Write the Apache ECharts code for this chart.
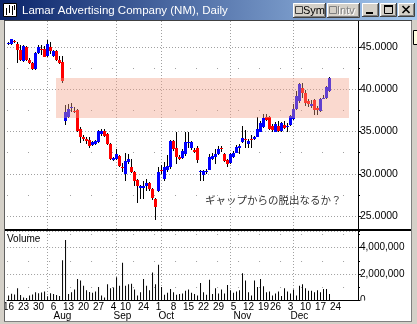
<!DOCTYPE html>
<html><head><meta charset="utf-8">
<script src="https://cdn.jsdelivr.net/npm/echarts@6/dist/echarts.min.js"></script>
<style>html,body{margin:0;padding:0;background:#fff;overflow:hidden}#c{width:417px;height:324px}</style>
</head><body><div id="c"></div>
<script>
// ---- data ----
const dates = [
'07/16','07/17','07/18','07/19','07/20','07/23','07/24','07/25','07/26','07/27','07/30','07/31',
'08/01','08/02','08/03','08/06','08/07','08/08','08/09','08/10','08/13','08/14','08/15','08/16','08/17','08/20','08/21','08/22','08/23','08/24','08/27','08/28','08/29','08/30','08/31',
'09/04','09/05','09/06','09/07','09/10','09/17','09/18','09/19','09/20','09/21','09/24','09/25','09/26','09/27','09/28',
'10/01','10/02','10/03','10/04','10/05','10/08','10/09','10/10','10/11','10/12','10/15','10/16','10/17','10/18','10/19','10/22','10/23','10/24','10/25','10/26','10/29','10/30','10/31',
'11/01','11/02','11/05','11/06','11/07','11/08','11/09','11/12','11/13','11/14','11/15','11/16','11/19','11/20','11/21','11/23','11/26','11/27','11/28','11/29','11/30',
'12/03','12/04','12/05','12/06','12/07','12/10','12/11','12/12','12/13','12/14','12/17','12/18','12/19','12/20','12/21','12/24','12/26','12/27','12/28','12/31',
'01/02','01/03','01/04'];

const openP = [45.3,45.3,45.7,45.4,44.6,43.3,45.0,43.5,43.1,42.35,
44.25,44.8,44.8,43.9,45.0,43.9,44.5,43.45,43.2,36.3,
36.7,37.8,37.4,37.5,35.3,34.3,34.1,34.0,33.45,33.5,
33.73,34.7,35.1,34.7,33.5,31.6,31.7,32.1,30.85,30.0,
31.35,30.8,30.2,29.25,28.3,28.35,28.55,28.85,28.2,27.0,
28.0,30.45,29.4,30.4,30.75,33.85,33.0,32.0,31.9,32.3,
33.7,33.0,32.8,33.1,30.25,29.8,30.3,30.5,31.8,32.0,
32.3,33.1,32.3,31.6,31.3,32.0,32.5,33.0,33.8,34.15,
33.5,34.15,34.1,34.4,35.0,35.5,36.7,36.7,35.6,35.0,
35.7,35.1,35.8,35.5,35.8,36.5,37.7,38.6,40.2,39.6,
38.6,38.0,38.7,37.8,37.4,38.95,39.0,39.8];
const closeP = [45.5,45.95,45.6,44.7,43.5,45.1,43.5,43.1,42.35,44.3,
44.95,44.75,43.85,45.35,44.5,44.5,43.5,43.1,41.0,37.35,
37.7,37.85,37.25,35.05,34.3,34.1,33.85,33.3,33.73,33.85,
35.05,35.1,34.5,33.5,31.75,31.9,32.3,30.95,30.8,31.5,
31.75,30.2,29.2,28.6,28.6,28.6,28.9,28.2,27.1,26.05,
30.2,30.4,30.75,30.9,33.9,32.9,31.95,31.75,32.7,33.7,
33.75,33.7,32.6,31.6,30.3,30.3,30.35,31.95,32.1,32.3,
32.9,32.9,31.55,31.15,32.3,32.5,33.2,33.3,34.2,34.05,
33.9,34.05,34.4,35.3,36.0,36.6,36.4,35.3,35.2,35.9,
35.1,36.0,35.4,35.6,36.8,37.7,39.2,40.6,39.6,38.4,
38.3,38.3,37.5,37.6,38.9,39.0,40.3,41.3];
const highP = [45.6,46.0,45.8,45.6,45.2,45.2,45.1,43.7,43.2,44.4,
45.2,45.25,45.1,45.8,45.6,44.6,44.6,43.9,43.9,38.1,
38.2,38.4,37.95,37.7,35.5,34.6,34.4,34.3,33.9,34.0,
35.2,35.3,35.3,34.8,33.6,32.0,32.9,32.2,31.3,32.5,
32.3,31.8,30.3,29.4,28.7,29.2,29.4,29.0,28.3,27.1,
30.8,31.0,31.4,32.2,34.0,33.95,35.0,32.2,32.9,35.0,
35.0,33.9,33.0,33.3,30.5,30.5,30.6,32.3,32.5,32.9,
33.3,33.3,32.4,31.7,32.4,32.7,33.4,33.5,35.6,35.2,
34.1,34.6,34.5,36.7,36.3,37.1,37.1,36.8,35.9,36.1,
36.2,36.1,36.2,36.0,37.0,38.2,39.8,40.8,40.7,39.9,
38.9,38.7,38.9,38.0,39.0,39.3,40.4,41.5];
const lowP = [45.2,45.2,45.5,43.1,43.4,43.2,43.4,43.0,42.3,42.3,
44.2,44.05,43.8,43.8,44.2,43.8,43.4,43.0,40.75,35.8,
36.6,37.3,37.2,35.0,33.6,33.9,33.5,33.1,33.3,33.4,
33.6,34.5,34.3,33.4,31.6,31.5,31.6,30.8,30.2,29.2,
31.2,30.1,28.5,26.5,27.0,27.0,28.0,27.9,26.9,24.5,
27.8,30.0,29.2,30.2,30.6,32.7,31.2,31.6,31.8,32.1,
33.1,32.8,32.4,31.3,29.2,29.1,30.0,30.4,31.6,31.2,
32.2,32.6,31.4,30.8,31.2,31.9,32.4,32.3,33.6,33.1,
33.0,33.1,34.0,34.3,34.9,35.4,36.3,35.2,35.0,34.9,
35.0,35.0,35.3,35.0,35.7,36.4,37.6,38.4,39.0,38.0,
37.9,37.8,36.9,36.9,37.3,38.8,38.9,39.7];
const volume = [350000,480000,420000,900000,380000,200000,150000,350000,420000,600000,
520000,580000,650000,280000,520000,450000,380000,300000,3050000,4600000,
450000,600000,800000,1600000,1500000,1100000,750000,620000,550000,650000,
1000000,350000,200000,1200000,900000,950000,1750000,1100000,2850000,1100000,
1200000,1250000,800000,350000,600000,1600000,1100000,750000,2100000,1200000,
2700000,1000000,400000,550000,850000,600000,400000,450000,500000,700000,
800000,550000,450000,350000,1300000,600000,400000,1550000,450000,900000,
500000,800000,500000,1150000,750000,550000,650000,750000,2050000,1500000,
600000,350000,1500000,1000000,1600000,1050000,600000,650000,350000,500000,
650000,300000,900000,650000,500000,800000,350000,1100000,1200000,900000,
700000,700000,600000,750000,600000,850000,850000,450000];

const tickDates = ['07/16','07/23','07/30','08/06','08/13','08/20','08/27','09/04','09/10','09/24',
'10/01','10/08','10/15','10/22','10/29','11/05','11/12','11/19','11/26','12/03','12/10','12/17','12/24'];
const monthLabelDates = ['08/06','09/04','10/01','11/05','12/03'];
const monthNames = ['Aug','Sep','Oct','Nov','Dec'];
const monthLineDates = ['08/02','09/05','10/02','11/02','12/04'];
const gapZoneDates = ['08/07','12/31'];
const gapZonePrices = [36.6, 41.35];
const priceTicks = [25, 45];
const annotation = 'ギャップからの脱出なるか？';

// ---- build ----
const FONT = '"Liberation Sans", Arial, sans-serif';
const tickSet = new Set(tickDates);
const monthLineSet = new Set(monthLineDates);
const ohlc = openP.map((o, i) => [i, o, closeP[i], lowP[i], highP[i]]);
const zone = [[dates.indexOf(gapZoneDates[0]), dates.indexOf(gapZoneDates[1]), gapZonePrices[0], gapZonePrices[1]]];

function renderCandle(params, api) {
  const i = api.value(0);
  const o = api.value(1), c = api.value(2);
  const pO = api.coord([i, o]), pC = api.coord([i, c]);
  const pL = api.coord([i, api.value(3)]), pH = api.coord([i, api.value(4)]);
  const bw = api.size([1, 0])[0];
  const cx = Math.floor(pO[0]) + 0.5;
  const top = Math.round(Math.min(pO[1], pC[1]));
  const bot = Math.round(Math.max(pO[1], pC[1]));
  return {type: 'group', children: [
    {type: 'line', shape: {x1: cx, y1: Math.round(pH[1]), x2: cx, y2: Math.round(pL[1])}, style: {stroke: '#000', lineWidth: 1}},
    {type: 'rect', shape: {x: cx - bw / 2, y: top, width: bw, height: Math.max(1, bot - top)}, style: {fill: c >= o ? '#0000FF' : '#FF0000'}}
  ]};
}
function renderZone(params, api) {
  const bw = api.size([1, 0])[0];
  const p0 = api.coord([api.value(0), api.value(3)]);
  const p1 = api.coord([api.value(1), api.value(2)]);
  const x0 = p0[0] - bw / 2 + 1, x1 = p1[0] + bw / 2;
  const y0 = Math.round(p0[1]), y1 = Math.round(p1[1]);
  return {type: 'rect', shape: {x: x0, y: y0, width: x1 - x0, height: y1 - y0}, style: {fill: 'rgba(242,160,134,0.4)'}};
}

function btn(x, y, w, h) {
  return [
    {type: 'rect', z: 100, shape: {x: x, y: y, width: w, height: h}, style: {fill: '#D4D0C8'}},
    {type: 'polyline', z: 101, shape: {points: [[x + 0.5, y + h - 1], [x + 0.5, y + 0.5], [x + w - 1, y + 0.5]]}, style: {stroke: '#fff', fill: null, lineWidth: 1}},
    {type: 'polyline', z: 101, shape: {points: [[x + 1.5, y + h - 1.5], [x + w - 1.5, y + h - 1.5], [x + w - 1.5, y + 1]]}, style: {stroke: '#808080', fill: null, lineWidth: 1}},
    {type: 'polyline', z: 101, shape: {points: [[x, y + h - 0.5], [x + w - 0.5, y + h - 0.5], [x + w - 0.5, y]]}, style: {stroke: '#404040', fill: null, lineWidth: 1}}
  ];
}

const graphics = [].concat(
  [{type: 'rect', z: 100, shape: {x: 0, y: 0, width: 417, height: 20},
    style: {fill: {type: 'linear', x: 0, y: 0, x2: 1, y2: 0, colorStops: [{offset: 0, color: '#0A246A'}, {offset: 1, color: '#A6CAF0'}]}}},
   {type: 'rect', z: 101, shape: {x: 3.5, y: 3.5, width: 13, height: 13}, style: {fill: '#fff', stroke: '#000', lineWidth: 1}},
   {type: 'line', z: 102, shape: {x1: 6.5, y1: 8, x2: 6.5, y2: 15}, style: {stroke: '#000', lineWidth: 1}},
   {type: 'line', z: 102, shape: {x1: 9.5, y1: 5, x2: 9.5, y2: 13}, style: {stroke: '#000', lineWidth: 1}},
   {type: 'line', z: 102, shape: {x1: 12.5, y1: 6, x2: 12.5, y2: 15}, style: {stroke: '#000', lineWidth: 1}},
   {type: 'line', z: 102, shape: {x1: 14.5, y1: 5, x2: 14.5, y2: 10}, style: {stroke: '#000', lineWidth: 1}},
   {type: 'text', z: 102, x: 22, y: 10.5, style: {text: 'Lamar Advertising Company (NM), Daily', fill: '#fff', fontSize: 11.5, fontFamily: FONT, verticalAlign: 'middle'}}],
  btn(293, 3, 33, 15), btn(327, 3, 33, 15), btn(362, 3, 17, 14), btn(380, 3, 17, 14), btn(398, 3, 17, 14),
  [{type: 'rect', z: 102, shape: {x: 295.5, y: 6.5, width: 7, height: 7}, style: {fill: '#D4D0C8', stroke: '#404040', lineWidth: 1}},
   {type: 'text', z: 102, x: 303, y: 11, style: {text: 'Sym', fill: '#000', fontSize: 11, fontFamily: FONT, verticalAlign: 'middle'}},
   {type: 'rect', z: 102, shape: {x: 329.5, y: 6.5, width: 7, height: 7}, style: {fill: '#D4D0C8', stroke: '#808080', lineWidth: 1}},
   {type: 'text', z: 102, x: 338, y: 12, style: {text: 'Intv', fill: '#fff', fontSize: 11, fontFamily: FONT, verticalAlign: 'middle'}},
   {type: 'text', z: 103, x: 337, y: 11, style: {text: 'Intv', fill: '#808080', fontSize: 11, fontFamily: FONT, verticalAlign: 'middle'}},
   {type: 'rect', z: 102, shape: {x: 366, y: 12, width: 7, height: 2}, style: {fill: '#000'}},
   {type: 'rect', z: 102, shape: {x: 384.5, y: 5.5, width: 8, height: 8}, style: {fill: null, stroke: '#000', lineWidth: 1}},
   {type: 'rect', z: 102, shape: {x: 384, y: 5, width: 9, height: 2}, style: {fill: '#000'}},
   {type: 'line', z: 102, shape: {x1: 402.5, y1: 6, x2: 409.5, y2: 13}, style: {stroke: '#000', lineWidth: 1.6}},
   {type: 'line', z: 102, shape: {x1: 409.5, y1: 6, x2: 402.5, y2: 13}, style: {stroke: '#000', lineWidth: 1.6}},
   // window frame
   {type: 'rect', z: 100, shape: {x: 0, y: 20, width: 4, height: 304}, style: {fill: '#D4D0C8'}},
   {type: 'line', z: 100, shape: {x1: 4.5, y1: 20, x2: 4.5, y2: 322}, style: {stroke: '#606060', lineWidth: 1}},
   {type: 'rect', z: 100, shape: {x: 411, y: 20, width: 6, height: 304}, style: {fill: '#D4D0C8'}},
   {type: 'line', z: 100, shape: {x1: 411.5, y1: 20, x2: 411.5, y2: 322}, style: {stroke: '#808080', lineWidth: 1}},
   {type: 'rect', z: 100, shape: {x: 0, y: 321, width: 417, height: 3}, style: {fill: '#D4D0C8'}},
   {type: 'line', z: 100, shape: {x1: 4, y1: 321.5, x2: 412, y2: 321.5}, style: {stroke: '#808080', lineWidth: 1}},
   {type: 'line', z: 100, shape: {x1: 4, y1: 20.5, x2: 412, y2: 20.5}, style: {stroke: '#404040', lineWidth: 1}},
   {type: 'rect', z: 100, shape: {x: 413.5, y: 30.5, width: 5, height: 14}, style: {fill: '#FFFFE1', stroke: '#000', lineWidth: 1}},
   {type: 'rect', z: 100, shape: {x: 5, y: 229, width: 406, height: 2}, style: {fill: '#000'}},
   {type: 'rect', z: 100, shape: {x: 360, y: 300.5, width: 30, height: 8}, style: {fill: '#fff'}},
   {type: 'text', z: 100, x: 7, y: 239.5, style: {text: 'Volume', fill: '#000', fontSize: 10, fontFamily: FONT, verticalAlign: 'middle'}},
   {type: 'text', z: 100, x: 205, y: 200, style: {text: annotation, fill: '#333', fontSize: 10.5, fontFamily: '"Noto Sans CJK JP", sans-serif', verticalAlign: 'middle'}}
  ]
);

const dotted = {color: '#a0a0a0', width: 1, type: [1, 2]};
const sparse = {color: '#a0a0a0', width: 1, type: [1, 20]};

const option = {
  animation: false,
  backgroundColor: '#fff',
  grid: [
    {left: 7, top: 21, width: 351, height: 208},
    {left: 7, top: 231, width: 351, height: 69},
    {left: 7, top: 47, width: 351, height: 169}
  ],
  xAxis: [
    {type: 'category', gridIndex: 0, data: dates, boundaryGap: true,
     axisLine: {show: false}, axisTick: {show: false}, axisLabel: {show: false},
     splitLine: {show: true, alignWithLabel: true, interval: (i, v) => monthLineSet.has(v), lineStyle: dotted}},
    {type: 'category', gridIndex: 1, data: dates, boundaryGap: true, position: 'bottom',
     axisLine: {show: true, lineStyle: {color: '#000', width: 1}}, axisTick: {show: false},
     axisLabel: {show: true, interval: (i, v) => tickSet.has(v), formatter: v => String(parseInt(v.slice(3), 10)),
       margin: 2, fontSize: 10, color: '#000', fontFamily: FONT, hideOverlap: false},
     splitLine: {show: true, alignWithLabel: true, interval: (i, v) => monthLineSet.has(v), lineStyle: dotted}},
    {type: 'category', gridIndex: 1, data: dates, boundaryGap: true, position: 'bottom',
     axisLine: {show: false}, axisTick: {show: false}, splitLine: {show: false},
     axisLabel: {show: true, interval: (i, v) => monthLabelDates.includes(v), formatter: v => monthNames[monthLabelDates.indexOf(v)] || '',
       margin: 11, fontSize: 10, color: '#000', fontFamily: FONT, align: 'left', hideOverlap: false}},
    {type: 'category', gridIndex: 2, data: dates, show: false}
  ],
  yAxis: [
    {type: 'value', gridIndex: 0, min: 23.46, max: 48.08, position: 'right', scale: true,
     axisLine: {show: true, lineStyle: {color: '#000'}}, axisTick: {show: false}, axisLabel: {show: false}, splitLine: {show: false}},
    {type: 'value', gridIndex: 1, min: 0, max: 5280000, interval: 2000000, position: 'right',
     axisLine: {show: true, lineStyle: {color: '#000'}}, axisTick: {show: true, length: 3, lineStyle: {color: '#000'}},
     axisLabel: {show: true, showMaxLabel: false, margin: 2, fontSize: 10, color: '#000', fontFamily: FONT,
       formatter: v => v.toLocaleString('en-US')},
     splitLine: {show: true, lineStyle: dotted}},
    {type: 'value', gridIndex: 2, min: priceTicks[0], max: priceTicks[1], interval: 5, position: 'right',
     axisLine: {show: false}, axisTick: {show: true, length: 3, lineStyle: {color: '#000'}},
     minorTick: {show: true, splitNumber: 2, length: 2, lineStyle: {color: '#000'}},
     axisLabel: {show: true, margin: 2, fontSize: 10.5, color: '#000', fontFamily: FONT, formatter: v => v.toFixed(4)},
     splitLine: {show: true, lineStyle: dotted},
     minorSplitLine: {show: true, lineStyle: sparse}},
    {type: 'value', gridIndex: 1, min: 0, max: 5280000, interval: 1000000, position: 'right',
     axisLine: {show: false}, axisTick: {show: true, length: 2, lineStyle: {color: '#000'}},
     axisLabel: {show: false}, splitLine: {show: true, lineStyle: sparse}}
  ],
  series: [
    {type: 'custom', name: 'price', xAxisIndex: 0, yAxisIndex: 0, z: 2, silent: true,
     renderItem: renderCandle, encode: {x: 0, y: [1, 2, 3, 4]}, data: ohlc, clip: true},
    {type: 'custom', name: 'gap', xAxisIndex: 0, yAxisIndex: 0, z: 5, silent: true,
     renderItem: renderZone, encode: {x: [0, 1], y: [2, 3]}, data: zone},
    {type: 'bar', name: 'Volume', xAxisIndex: 1, yAxisIndex: 1, z: 2, silent: true,
     barWidth: 1, itemStyle: {color: '#000'}, data: volume}
  ],
  graphic: {elements: graphics}
};
const chart = echarts.init(document.getElementById('c'), null, {renderer: 'canvas'});
chart.setOption(option);
</script></body></html>
